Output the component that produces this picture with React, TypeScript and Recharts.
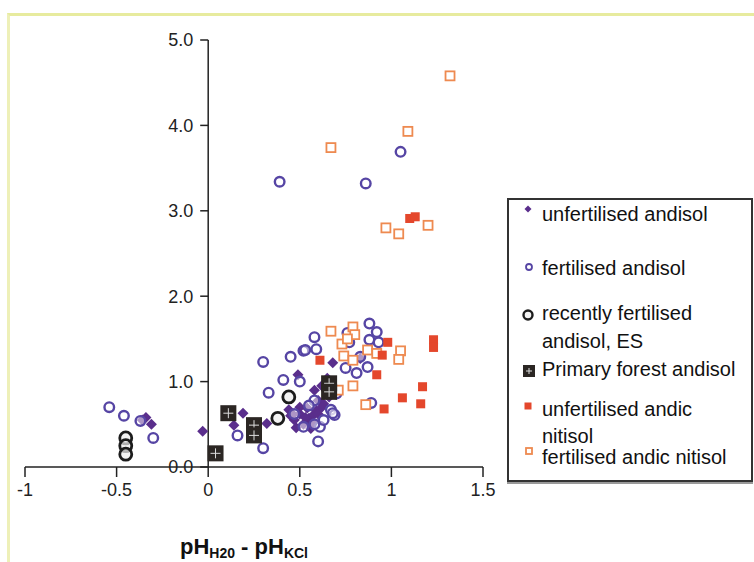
import { ScatterChart, Scatter, XAxis, YAxis, ReferenceLine, Label } from 'recharts'

type P = { x: number; y: number }
const pts = (a: number[][]): P[] => a.map(([x, y]) => ({ x, y }))

const X_TICKS = [-1, -0.5, 0, 0.5, 1, 1.5]
const Y_TICKS = [0, 1, 2, 3, 4, 5]

const unfertilisedAndisol = pts([
  [-0.36, 0.55], [-0.34, 0.58], [-0.31, 0.5], [-0.03, 0.42], [0.14, 0.49], [0.19, 0.63],
  [0.32, 0.51], [0.44, 0.67], [0.46, 0.62], [0.48, 0.46], [0.5, 0.62], [0.52, 0.5],
  [0.54, 0.69], [0.54, 0.54], [0.55, 0.57], [0.57, 0.6], [0.58, 0.9], [0.59, 0.66],
  [0.6, 0.78], [0.63, 0.74], [0.65, 1.04], [0.68, 1.22], [0.49, 1.08], [0.83, 1.27],
  [0.62, 0.95], [0.56, 0.45], [0.47, 0.55], [0.5, 0.7], [0.53, 0.58], [0.57, 0.52],
  [0.6, 0.62], [0.62, 0.7], [0.45, 0.6], [0.66, 0.82],
])

const fertilisedAndisol = pts([
  [-0.54, 0.7], [-0.46, 0.6], [-0.37, 0.54], [-0.3, 0.34], [0.16, 0.37], [0.3, 0.22],
  [0.3, 1.23], [0.33, 0.87], [0.39, 3.34], [0.41, 1.02], [0.45, 1.29], [0.5, 1.0],
  [0.52, 1.36], [0.58, 1.52], [0.59, 1.38], [0.6, 0.3], [0.58, 0.78], [0.61, 0.47],
  [0.52, 0.47], [0.67, 0.67], [0.69, 0.61], [0.68, 0.63], [0.75, 1.16], [0.76, 1.57],
  [0.77, 1.46], [0.81, 1.1], [0.83, 1.29], [0.86, 3.32], [0.87, 1.17], [0.88, 1.68],
  [0.88, 1.49], [0.92, 1.58], [0.93, 1.46], [0.89, 0.75], [1.05, 3.69], [0.53, 1.37],
  [0.47, 0.62], [0.55, 0.72], [0.63, 0.55], [0.7, 0.86], [0.58, 0.5],
])

const recentlyFertilised = pts([
  [-0.45, 0.34], [-0.45, 0.25], [-0.45, 0.15], [0.44, 0.82], [0.38, 0.57],
])

const primaryForest = pts([
  [0.04, 0.16], [0.11, 0.63], [0.25, 0.49], [0.25, 0.37], [0.66, 0.98], [0.66, 0.88],
])

const unfertilisedNitisol = pts([
  [1.1, 2.91], [1.13, 2.93], [1.23, 1.49], [1.23, 1.4], [1.17, 0.94], [1.06, 0.81],
  [1.16, 0.74], [0.96, 0.68], [0.92, 1.08], [0.95, 1.31], [0.98, 1.46], [0.61, 1.25],
])

const fertilisedNitisol = pts([
  [1.32, 4.58], [0.67, 3.74], [1.09, 3.93], [0.97, 2.8], [1.04, 2.73], [1.2, 2.83],
  [0.67, 1.59], [0.79, 1.64], [0.73, 1.44], [0.74, 1.3], [0.79, 1.25], [0.8, 1.55],
  [0.87, 1.37], [0.92, 1.33], [1.05, 1.36], [1.04, 1.26], [0.79, 0.95], [0.86, 0.73],
  [0.71, 0.9], [0.76, 1.5],
])

const FONT = '"Liberation Sans", Arial, sans-serif'
const LEFT = 24
const RIGHT = 483
const ZERO_X = LEFT + 1 + ((RIGHT - LEFT - 1) * (0 - -1)) / 2.5

const Diamond = ({ cx, cy, s = 5.5 }: any) => (
  <polygon points={`${cx},${cy - s} ${cx + s},${cy} ${cx},${cy + s} ${cx - s},${cy}`} fill="#5a2e8c" />
)
const Ring = ({ cx, cy, r = 4.8, w = 2.4 }: any) => (
  <circle cx={cx} cy={cy} r={r} fill="#fff" fillOpacity={0.5} stroke="#5645a4" strokeWidth={w} />
)
const BlackRing = ({ cx, cy, r = 6, w = 2.8 }: any) => (
  <circle cx={cx} cy={cy} r={r} fill="#eee" fillOpacity={0.7} stroke="#1c1c1c" strokeWidth={w} />
)
const PlusSquare = ({ cx, cy, s = 8 }: any) => (
  <g>
    <rect x={cx - s} y={cy - s} width={2 * s} height={2 * s} fill="#2b2623" />
    <line x1={cx - s + 3} x2={cx + s - 3} y1={cy} y2={cy} stroke="#ddd" strokeWidth={1} />
    <line x1={cx} x2={cx} y1={cy - s + 3} y2={cy + s - 3} stroke="#ddd" strokeWidth={1} />
  </g>
)
const RedSquare = ({ cx, cy, s = 4.5 }: any) => (
  <rect x={cx - s} y={cy - s} width={2 * s} height={2 * s} fill="#e4472c" />
)
const OrangeSquare = ({ cx, cy, s = 4.5 }: any) => (
  <rect x={cx - s} y={cy - s} width={2 * s} height={2 * s} fill="#fff" stroke="#ee8a50" strokeWidth={1.8} />
)

const YTick = ({ y, payload }: any) => (
  <g>
    <line x1={ZERO_X - 8} x2={ZERO_X} y1={y} y2={y} stroke="#222" strokeWidth={1.5} />
    <text x={ZERO_X - 15} y={y} dy="0.36em" textAnchor="end" fontSize={18} fontFamily={FONT} fill="#222">
      {Number(payload.value).toFixed(1)}
    </text>
  </g>
)

const legendRows = [
  { y: 214, text: 'unfertilised andisol' },
  { y: 268, text: 'fertilised andisol' },
  { y: 313, text: 'recently fertilised' },
  { y: 341, text: 'andisol, ES' },
  { y: 369, text: 'Primary forest andisol' },
  { y: 409, text: 'unfertilised andic' },
  { y: 436, text: 'nitisol' },
  { y: 457, text: 'fertilised andic nitisol' },
]

const legendMarks = [
  { x: 528, y: 209, el: <Diamond cx={8} cy={8} s={3.5} /> },
  { x: 529, y: 267, el: <Ring cx={8} cy={8} r={3} w={1.8} /> },
  { x: 528, y: 315, el: <BlackRing cx={8} cy={8} r={4.5} w={2.4} /> },
  { x: 529, y: 371, el: <PlusSquare cx={8} cy={8} s={6} /> },
  { x: 528, y: 406, el: <RedSquare cx={8} cy={8} s={3.5} /> },
  { x: 529, y: 451, el: <OrangeSquare cx={8} cy={8} s={3} /> },
]

export default function App() {
  return (
    <div style={{ position: 'absolute', left: 0, top: 0, width: 754, height: 562, background: '#fff', overflow: 'hidden' }}>
      <div style={{ position: 'absolute', left: 7, top: 13, width: 760, height: 560, borderTop: '3px solid #e7eb9e', borderLeft: '3px solid #eef0b8' }} />
      <ScatterChart width={754} height={562} margin={{ top: 40, right: 754 - RIGHT, bottom: 55, left: LEFT }}>
        <XAxis
          type="number" dataKey="x" domain={[-1, 1.5]} ticks={X_TICKS} height={40}
          tickSize={10} tickMargin={6} allowDataOverflow
          axisLine={{ stroke: '#222', strokeWidth: 1.5 }} tickLine={{ stroke: '#222', strokeWidth: 1.5 }}
          tick={{ fontSize: 18, fontFamily: FONT, fill: '#222' }}
        >
          <Label
            content={({ viewBox }: any) => (
              <text x={viewBox.x + viewBox.width / 2 - 10} y={554} textAnchor="middle" fontSize={22} fontWeight="bold" fontFamily={FONT} fill="#111">
                <tspan>pH</tspan>
                <tspan fontSize={14} dy={4}>H20</tspan>
                <tspan dy={-4}> - pH</tspan>
                <tspan fontSize={14} dy={4}>KCl</tspan>
              </text>
            )}
          />
        </XAxis>
        <YAxis
          type="number" dataKey="y" domain={[0, 5]} ticks={Y_TICKS} width={1}
          axisLine={false} tickLine={false} tick={<YTick />} allowDataOverflow
        />
        <ReferenceLine x={0} stroke="#222" strokeWidth={1.5} />
        <Scatter data={unfertilisedAndisol} shape={(p: any) => <Diamond cx={p.cx} cy={p.cy} />} isAnimationActive={false} />
        <Scatter data={fertilisedAndisol} shape={(p: any) => <Ring cx={p.cx} cy={p.cy} />} isAnimationActive={false} />
        <Scatter data={fertilisedNitisol} shape={(p: any) => <OrangeSquare cx={p.cx} cy={p.cy} />} isAnimationActive={false} />
        <Scatter data={unfertilisedNitisol} shape={(p: any) => <RedSquare cx={p.cx} cy={p.cy} />} isAnimationActive={false} />
        <Scatter data={recentlyFertilised} shape={(p: any) => <BlackRing cx={p.cx} cy={p.cy} />} isAnimationActive={false} />
        <Scatter data={primaryForest} shape={(p: any) => <PlusSquare cx={p.cx} cy={p.cy} />} isAnimationActive={false} />
      </ScatterChart>
      <div style={{ position: 'absolute', left: 507, top: 198, width: 246, height: 284, border: '2px solid #333', boxShadow: '0 2px 0 #999', boxSizing: 'border-box' }} />
      {legendMarks.map((m, i) => (
        <svg key={i} width={16} height={16} style={{ position: 'absolute', left: m.x - 8, top: m.y - 8 }}>{m.el}</svg>
      ))}
      {legendRows.map((r, i) => (
        <div key={i} style={{ position: 'absolute', left: 542, top: r.y - 12, lineHeight: '24px', fontSize: 20, fontFamily: FONT, color: '#111', whiteSpace: 'nowrap' }}>
          {r.text}
        </div>
      ))}
    </div>
  )
}
